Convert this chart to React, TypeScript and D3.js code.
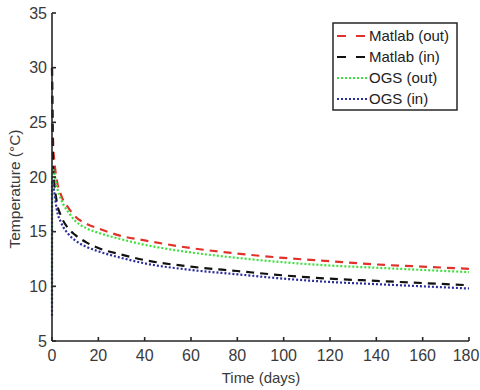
import { useMemo } from 'react';
import * as d3 from 'd3';

// time in days, temperatures in °C
const matlabOutT = [0, 0.5, 1, 2, 4, 7, 10, 15, 20, 30, 40, 60, 80, 100, 120, 140, 160, 180];
const matlabOutV = [30, 23, 21.5, 19.8, 18.3, 17.2, 16.4, 15.7, 15.3, 14.6, 14.2, 13.5, 13.0, 12.6, 12.3, 12.0, 11.8, 11.6];

const matlabInT = [0, 0.5, 1, 2, 4, 7, 10, 15, 20, 30, 40, 60, 80, 100, 120, 140, 160, 180];
const matlabInV = [30, 21, 19.5, 17.8, 16.4, 15.3, 14.7, 14.0, 13.5, 12.9, 12.4, 11.8, 11.4, 11.0, 10.7, 10.5, 10.3, 10.1];

const ogsOutT = [0, 0.02, 1, 2, 4, 7, 10, 15, 20, 30, 40, 60, 80, 100, 120, 140, 160, 180];
const ogsOutV = [8.5, 20.8, 20.3, 19.2, 17.9, 16.8, 16.0, 15.3, 14.9, 14.3, 13.8, 13.1, 12.6, 12.2, 11.9, 11.7, 11.5, 11.3];

const ogsInT = [0, 0.02, 1, 2, 4, 7, 10, 15, 20, 30, 40, 60, 80, 100, 120, 140, 160, 180];
const ogsInV = [7.3, 19.7, 18.6, 17.1, 15.8, 14.8, 14.2, 13.6, 13.2, 12.6, 12.1, 11.5, 11.1, 10.7, 10.4, 10.2, 10.0, 9.8];

const xTicks = [0, 20, 40, 60, 80, 100, 120, 140, 160, 180];
const yTicks = [5, 10, 15, 20, 25, 30, 35];

const seriesNames = ['Matlab (out)', 'Matlab (in)', 'OGS (out)', 'OGS (in)'];

const App = () => {
  const width = 480;
  const height = 390;
  const margin = { top: 13, right: 11, bottom: 49, left: 52 };

  const x = d3.scaleLinear().domain([0, 180]).range([margin.left, width - margin.right]);
  const y = d3.scaleLinear().domain([5, 35]).range([height - margin.bottom, margin.top]);

  const series = useMemo(
    () => [
      { name: seriesNames[0], t: matlabOutT, v: matlabOutV, color: '#e0322a', dash: '8,6', w: 2.2 },
      { name: seriesNames[1], t: matlabInT, v: matlabInV, color: '#111111', dash: '8,6', w: 2.2 },
      { name: seriesNames[2], t: ogsOutT, v: ogsOutV, color: '#3de03d', dash: '2,2', w: 2.2 },
      { name: seriesNames[3], t: ogsInT, v: ogsInV, color: '#2b2b9e', dash: '2,2', w: 2.2 },
    ],
    []
  );

  const line = d3
    .line<[number, number]>()
    .x((d) => x(d[0]))
    .y((d) => y(d[1]))
    .curve(d3.curveMonotoneX);

  const font = 'Arial, "Liberation Sans", sans-serif';
  const axisColor = '#262626';
  const textColor = '#3a3a3a';

  const legX = 333;
  const legY = 23;

  return (
    <svg
      width={width}
      height={height}
      style={{ position: 'absolute', left: 0, top: 0, background: '#fff' }}
      fontFamily={font}
    >
      {/* lines */}
      {series.map((s) => (
        <path
          key={s.name}
          d={line(s.t.map((t, i) => [t, s.v[i]] as [number, number])) || ''}
          fill="none"
          stroke={s.color}
          strokeWidth={s.w}
          strokeDasharray={s.dash}
        />
      ))}

      {/* axes */}
      <line x1={x(0)} x2={x(0)} y1={y(35)} y2={y(5)} stroke={axisColor} strokeWidth={1.6} />
      <line x1={x(0)} x2={x(180)} y1={y(5)} y2={y(5)} stroke={axisColor} strokeWidth={1.6} />

      {yTicks.map((t) => (
        <g key={'y' + t}>
          <line x1={x(0)} x2={x(0) + 4} y1={y(t)} y2={y(t)} stroke={axisColor} strokeWidth={1.6} />
          <text x={x(0) - 5} y={y(t)} dy="0.35em" textAnchor="end" fontSize={16} fill={textColor}>
            {t}
          </text>
        </g>
      ))}
      {xTicks.map((t) => (
        <g key={'x' + t}>
          <line x1={x(t)} x2={x(t)} y1={y(5)} y2={y(5) - 4} stroke={axisColor} strokeWidth={1.6} />
          <text x={Math.min(x(t), width - 14)} y={y(5) + 20} textAnchor="middle" fontSize={16} fill={textColor}>
            {t}
          </text>
        </g>
      ))}

      <text x={261} y={383} textAnchor="middle" fontSize={15} fill={textColor}>
        Time (days)
      </text>
      <text
        transform={`translate(20, 189) rotate(-90)`}
        textAnchor="middle"
        fontSize={15.5}
        fill={textColor}
      >
        Temperature (°C)
      </text>

      {/* legend */}
      <rect x={legX} y={legY} width={124} height={87} fill="#fff" stroke={axisColor} strokeWidth={1.5} />
      {series.map((s, i) => {
        const cy = legY + 13 + i * 21;
        return (
          <g key={'leg' + s.name}>
            <line
              x1={legX + 4}
              x2={legX + 34}
              y1={cy}
              y2={cy}
              stroke={s.color}
              strokeWidth={s.w}
              strokeDasharray={s.dash === '8,6' ? '9,10' : s.dash}
            />
            <text x={legX + 36} y={cy} dy="0.35em" fontSize={15} fill="#222">
              {s.name}
            </text>
          </g>
        );
      })}
    </svg>
  );
};

export default App;
